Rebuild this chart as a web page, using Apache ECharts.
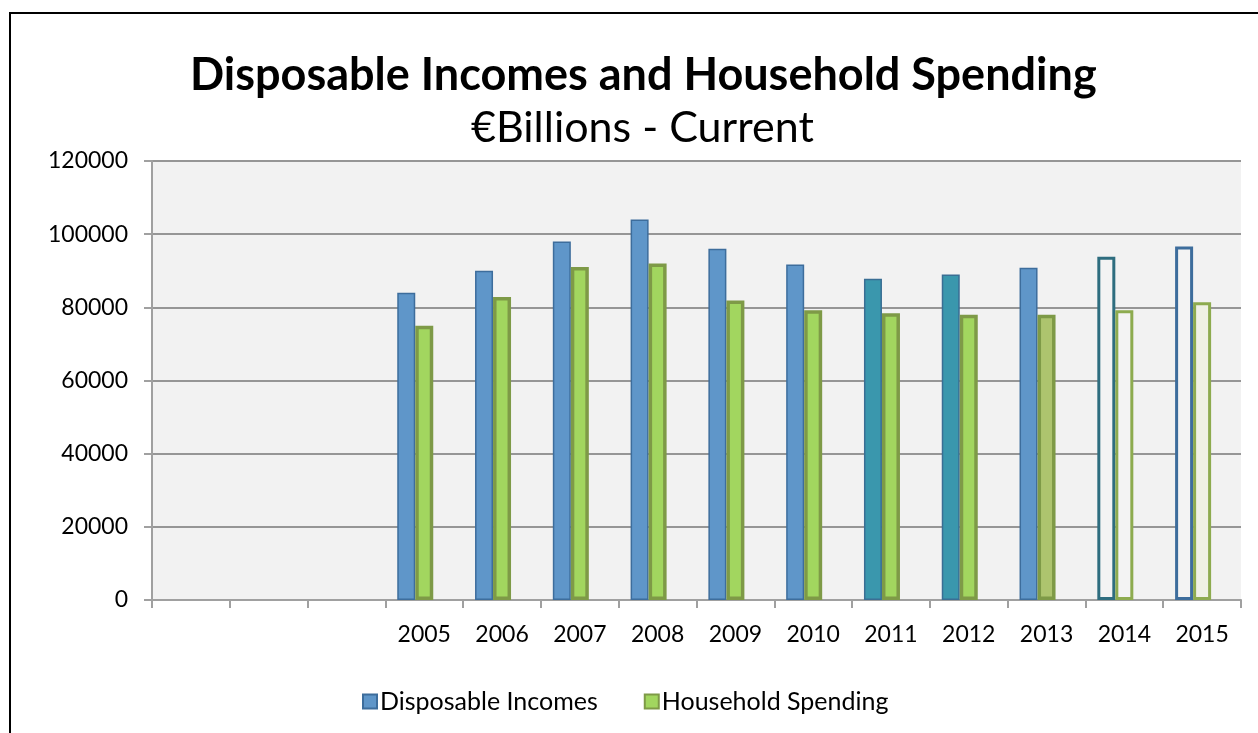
<!DOCTYPE html>
<html>
<head>
<meta charset="utf-8">
<script src="https://cdn.jsdelivr.net/npm/echarts@6/dist/echarts.min.js"></script>
<style>
  html, body { margin: 0; padding: 0; background: #ffffff; }
  #chart { width: 1258px; height: 733px; }
</style>
</head>
<body>
<div id="chart"></div>
<script>
// Categories (three leading empty slots on the axis)
const years = ['', '', '', '2005', '2006', '2007', '2008', '2009', '2010', '2011', '2012', '2013', '2014', '2015'];

// Values, € billions (current)
const disposableIncomes = [null, null, null, 84000, 90000, 98000, 104000, 96000, 91700, 87800, 89000, 90800, 93800, 96600];
const householdSpending = [null, null, null, 75000, 82800, 91000, 92000, 81900, 79200, 78400, 78000, 78000, 79200, 81400];

// Y-axis range
const yMin = 0;
const yMax = 120000;
const yStep = 20000;

const FONT = 'Lato';

// Colours
const blueFill = '#5f96c9', blueEdge = '#3d6d9c';
const tealFill = '#3a97ad', tealEdge = '#3a6e94';
const greenFill = '#a2d65f', greenEdge = '#7e9a47';
const oliveFill = '#adc46e';
const hollowFill = '#f3f3f3', creamFill = '#eff1e4';
const hollowTealEdge = '#2e6d7f', hollowGreenEdge = '#8dab4f';

function incomeStyle(year) {
  if (year === '2011' || year === '2012') return { color: tealFill, borderColor: tealEdge, borderWidth: 1.5 };
  if (year === '2014') return { color: hollowFill, borderColor: hollowTealEdge, borderWidth: 3 };
  if (year === '2015') return { color: hollowFill, borderColor: blueEdge, borderWidth: 3 };
  return null;
}
function spendingStyle(year) {
  if (year === '2013') return { color: oliveFill, borderColor: greenEdge, borderWidth: 3.5 };
  if (year === '2014') return { color: hollowFill, borderColor: hollowGreenEdge, borderWidth: 3 };
  if (year === '2015') return { color: creamFill, borderColor: hollowGreenEdge, borderWidth: 3 };
  return null;
}

const incomeData = disposableIncomes.map((v, i) => {
  const s = incomeStyle(years[i]);
  return s ? { value: v, itemStyle: s } : v;
});
const spendingData = householdSpending.map((v, i) => {
  const s = spendingStyle(years[i]);
  return s ? { value: v, itemStyle: s } : v;
});

const chart = echarts.init(document.getElementById('chart'));
chart.setOption({
  backgroundColor: '#ffffff',
  animation: false,
  textStyle: { fontFamily: FONT },
  title: [
    {
      text: 'Disposable Incomes and Household Spending',
      left: 185, top: 48,
      textStyle: { fontFamily: FONT, fontWeight: 'bold', fontSize: 45, color: '#000000' }
    },
    {
      text: '€Billions - Current',
      left: 466, top: 102,
      textStyle: { fontFamily: FONT, fontWeight: 'normal', fontSize: 43, color: '#000000' }
    }
  ],
  legend: {
    data: ['Disposable Incomes', 'Household Spending'],
    left: 357, top: 684,
    itemWidth: 14, itemHeight: 14,
    itemGap: 46,
    icon: 'rect',
    textStyle: { fontFamily: FONT, fontSize: 25, color: '#000000', padding: [0, 0, 0, -2] }
  },
  grid: {
    left: 152, right: 17, top: 161, bottom: 133,
    show: true, backgroundColor: '#f2f2f2', borderWidth: 0
  },
  xAxis: {
    type: 'category',
    data: years,
    boundaryGap: true,
    axisLine: { lineStyle: { color: '#a0a0a0', width: 2 } },
    axisTick: { show: true, length: 8, interval: 0, lineStyle: { color: '#a0a0a0', width: 2 } },
    axisLabel: { interval: 0, margin: 23, fontSize: 23, color: '#000000', fontFamily: FONT }
  },
  yAxis: {
    type: 'value',
    min: yMin, max: yMax, interval: yStep,
    axisLine: { show: true, lineStyle: { color: '#a0a0a0', width: 2 } },
    axisTick: { show: true, length: 8, lineStyle: { color: '#a0a0a0', width: 2 } },
    axisLabel: { margin: 24, fontSize: 23, color: '#000000', fontFamily: FONT, formatter: (v) => String(v) },
    splitLine: { lineStyle: { color: '#969696', width: 2 } }
  },
  series: [
    {
      name: 'Disposable Incomes',
      type: 'bar',
      data: incomeData,
      barWidth: 18,
      barGap: '0%',
      itemStyle: { color: blueFill, borderColor: blueEdge, borderWidth: 1.5 }
    },
    {
      name: 'Household Spending',
      type: 'bar',
      data: spendingData,
      barWidth: 18,
      barGap: '0%',
      itemStyle: { color: greenFill, borderColor: greenEdge, borderWidth: 3.5 }
    },
    {
      // empty third slot in each category group
      name: '',
      type: 'bar',
      data: years.map(() => null),
      barWidth: 18,
      barGap: '0%',
      silent: true
    }
  ],
  graphic: [
    {
      type: 'rect',
      shape: { x: 10, y: 13, width: 1270, height: 740 },
      style: { fill: 'none', stroke: '#000000', lineWidth: 2 },
      silent: true
    }
  ]
});
</script>
</body>
</html>
